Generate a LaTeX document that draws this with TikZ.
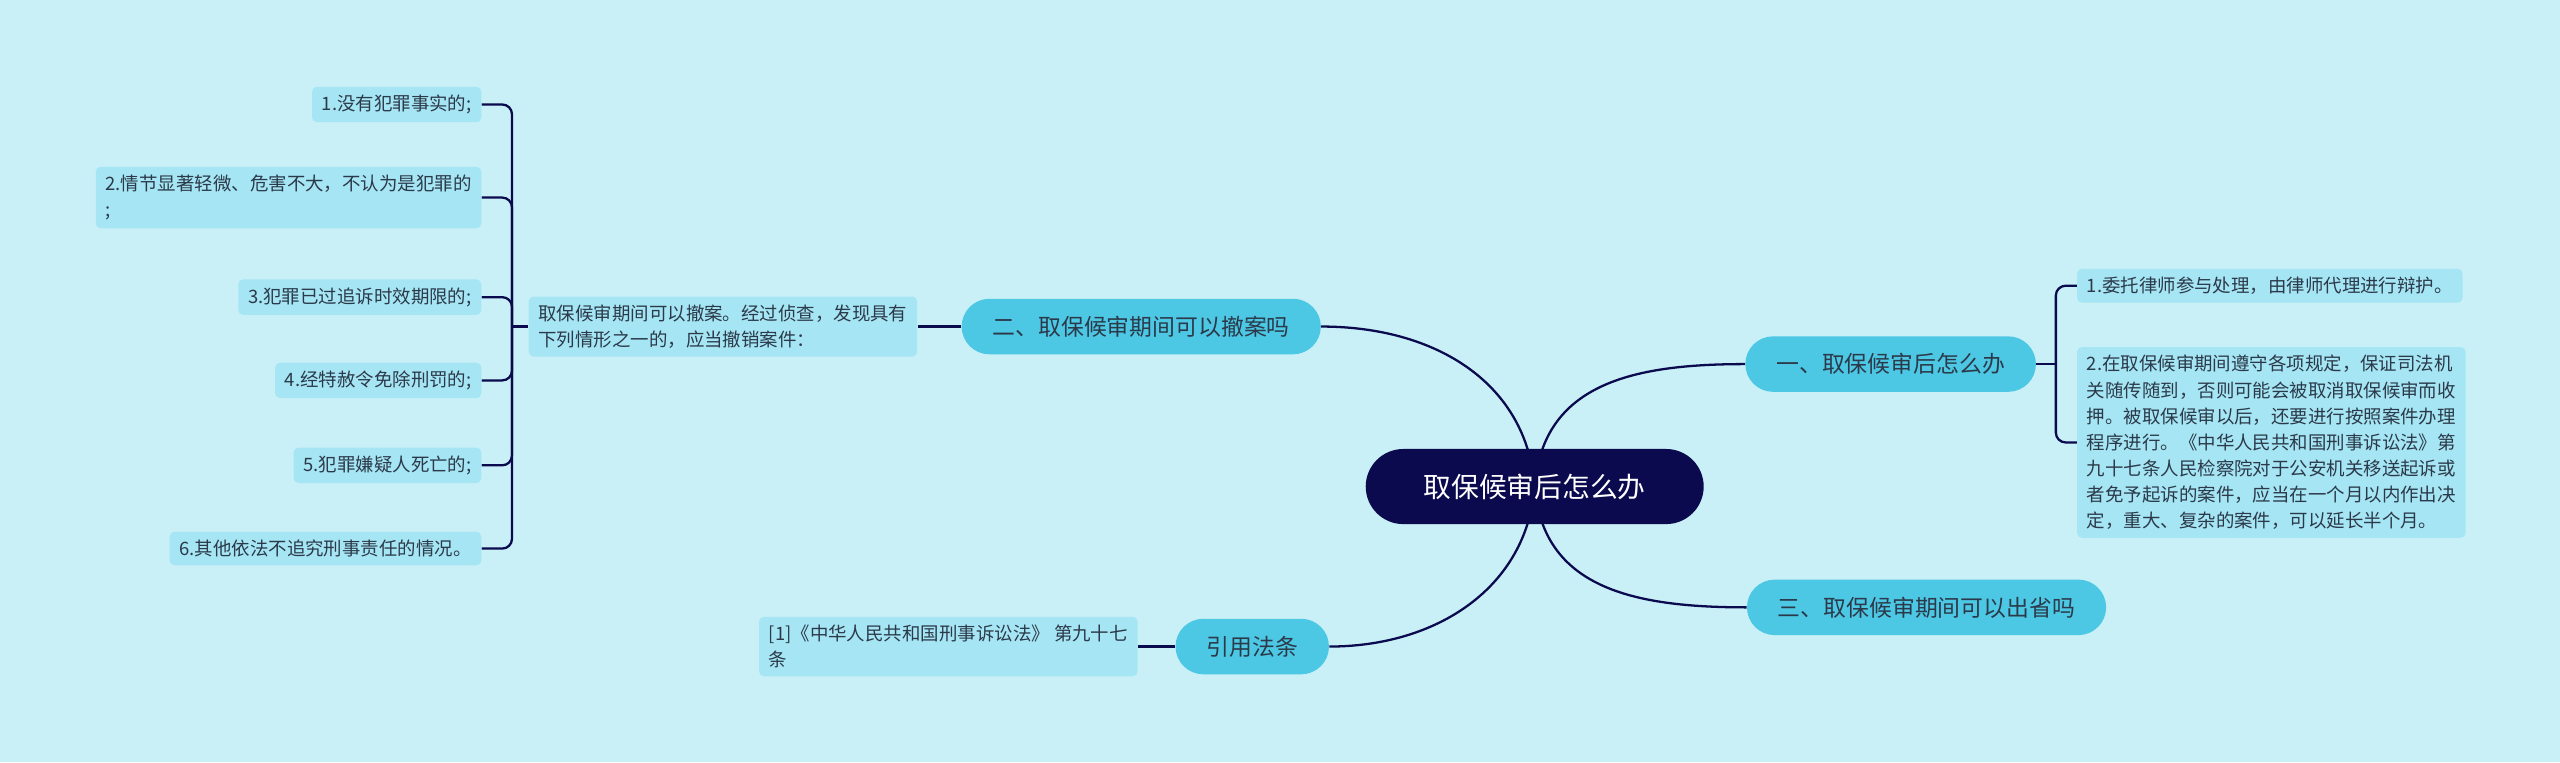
\documentclass[tikz,border=0pt]{standalone}
\usepackage{fontspec}
\setmainfont{Noto Sans CJK SC}
\usetikzlibrary{backgrounds,calc}
\definecolor{bg}{HTML}{C9F0F7}
\definecolor{navy}{HTML}{0B0A4E}
\definecolor{branch}{HTML}{4DC8E4}
\definecolor{leaf}{HTML}{A6E5F3}
\definecolor{txt}{HTML}{2B3A4A}
\tikzset{
  rootn/.style={fill=navy,text=white,rounded corners=23pt,minimum width=207pt,minimum height=46pt,font=\fontsize{17}{20}\selectfont},
  brn/.style={fill=branch,text=txt,rounded corners=17pt,minimum height=34pt,inner xsep=19pt,font=\fontsize{14}{17}\selectfont},
  leafn/.style={fill=leaf,text=txt,rounded corners=3pt,inner xsep=6pt,inner ysep=5pt,align=left,font=\fontsize{11.3}{16}\selectfont},
  con/.style={draw=navy,line width=1.4pt}
}
\begin{document}
\begin{tikzpicture}[x=1pt,y=-1pt]
\useasboundingbox (0,0) rectangle (1568,467);
\node[rootn] (root) at (940,298) {取保候审后怎么办};
\node[brn] (b1) at (1158,223) {一、取保候审后怎么办};
\node[brn] (b3) at (1180,372) {三、取保候审期间可以出省吗};
\node[brn] (b2) at (699,200) {二、取保候审期间可以撤案吗};
\node[brn] (b4) at (767,396) {引用法条};
\node[leafn,anchor=west] (r1) at (1272,175) {1.委托律师参与处理，由律师代理进行辩护。};
\node[leafn,anchor=west] (r2) at (1272,271) {2.在取保候审期间遵守各项规定，保证司法机\\关随传随到，否则可能会被取消取保候审而收\\押。被取保候审以后，还要进行按照案件办理\\程序进行。《中华人民共和国刑事诉讼法》第\\九十七条人民检察院对于公安机关移送起诉或\\者免予起诉的案件，应当在一个月以内作出决\\定，重大、复杂的案件，可以延长半个月。};
\node[leafn,anchor=east] (m) at (562,200) {取保候审期间可以撤案。经过侦查，发现具有\\下列情形之一的，应当撤销案件：};
\node[leafn,anchor=east] (l1) at (295,64) {1.没有犯罪事实的;};
\node[leafn,anchor=east] (l2) at (295,121) {2.情节显著轻微、危害不大，不认为是犯罪的\\;};
\node[leafn,anchor=east] (l3) at (295,182) {3.犯罪已过追诉时效期限的;};
\node[leafn,anchor=east] (l4) at (295,233) {4.经特赦令免除刑罚的;};
\node[leafn,anchor=east] (l5) at (295,285) {5.犯罪嫌疑人死亡的;};
\node[leafn,anchor=east] (l6) at (295,336) {6.其他依法不追究刑事责任的情况。};
\node[leafn,anchor=east] (ref) at (697,396) {[1]《中华人民共和国刑事诉讼法》 第九十七\\条};
\begin{scope}[on background layer]
\fill[bg] (0,0) rectangle (1568,467);
\draw[con] (root.center) .. controls (945,235) and (1000,223) .. (b1.west);
\draw[con] (root.center) .. controls (945,360) and (1000,372) .. (b3.west);
\draw[con] (root.center) .. controls (935,235) and (880,200) .. (b2.east);
\draw[con] (root.center) .. controls (935,360) and (880,396) .. (b4.east);
\draw[con] (b2.west) -- (m.east);
\draw[con] (b4.west) -- (ref.east);
\coordinate (cl) at ($(m.west)+(-10,0)$);
\draw[con] (m.west) -- (cl);
\foreach \n in {l1,l2,l3,l4,l5,l6} \draw[con,rounded corners=6pt] (cl) |- (\n.east);
\coordinate (cr) at ($(b1.east)+(12,0)$);
\draw[con] (b1.east) -- (cr);
\foreach \n in {r1,r2} \draw[con,rounded corners=6pt] (cr) |- (\n.west);
\end{scope}
\end{tikzpicture}
\end{document}
